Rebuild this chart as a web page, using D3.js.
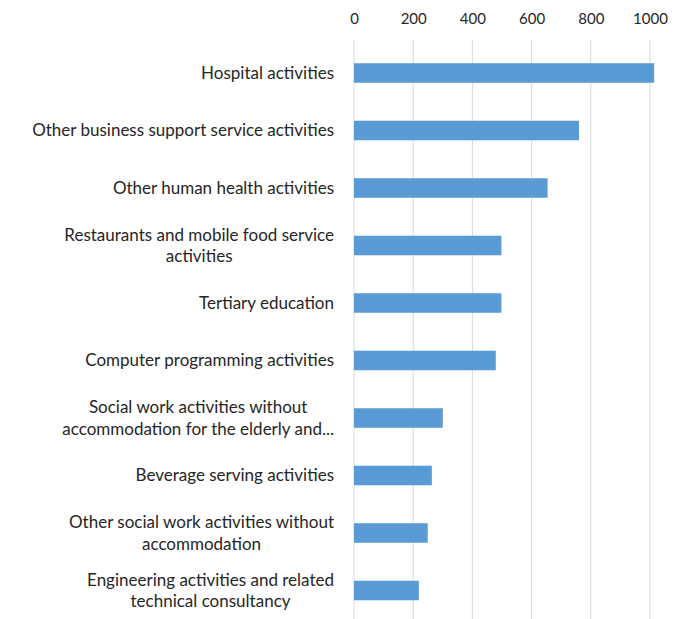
<!DOCTYPE html>
<html>
<head>
<meta charset="utf-8">
<script src="https://cdn.jsdelivr.net/npm/d3@7"></script>
<style>
  html, body { margin: 0; padding: 0; background: #fff; }
  svg { display: block; }
  text { font-family: Lato, "Open Sans", sans-serif; fill: #262626; }
</style>
</head>
<body>
<svg id="chart" width="674" height="619"></svg>
<script>
// ---- data ----
const categories = [
  "Hospital activities",
  "Other business support service activities",
  "Other human health activities",
  "Restaurants and mobile food service activities",
  "Tertiary education",
  "Computer programming activities",
  "Social work activities without accommodation for the elderly and...",
  "Beverage serving activities",
  "Other social work activities without accommodation",
  "Engineering activities and related technical consultancy"
];
const labelLines = [
  ["Hospital activities"],
  ["Other business support service activities"],
  ["Other human health activities"],
  ["Restaurants and mobile food service", "activities"],
  ["Tertiary education"],
  ["Computer programming activities"],
  ["Social work activities without", "accommodation for the elderly and..."],
  ["Beverage serving activities"],
  ["Other social work activities without", "accommodation"],
  ["Engineering activities and related", "technical consultancy"]
];
const values = [1014, 760, 654, 498, 498, 479, 300, 263, 249, 219];
const tickValues = [0, 200, 400, 600, 800, 1000];

// ---- layout ----
const svg = d3.select("#chart");
const x = d3.scaleLinear().domain([0, 1000]).range([354, 650]);
const y = d3.scaleBand().domain(categories).range([44.25, 619.25])
  .paddingInner(0.66).paddingOuter(0.33);

// gridlines
svg.append("g").selectAll("line").data(tickValues).join("line")
  .attr("x1", d => x(d)).attr("x2", d => x(d))
  .attr("y1", 40).attr("y2", 619)
  .attr("stroke", "#d9d9d9").attr("stroke-width", 1);

// top axis labels
const axis = svg.append("g").attr("transform", "translate(0,40)")
  .call(d3.axisTop(x).tickValues(tickValues).tickSize(0).tickPadding(16).tickFormat(d3.format("d")));
axis.select(".domain").remove();
axis.selectAll("text").style("font-family", "Lato, 'Open Sans', sans-serif")
  .style("font-size", "15px").attr("fill", "#262626");

// bars
svg.append("g").selectAll("rect").data(values).join("rect")
  .attr("x", x(0))
  .attr("y", (d, i) => y(categories[i]))
  .attr("width", d => x(d) - x(0))
  .attr("height", y.bandwidth())
  .attr("fill", "#5b9bd5");

// category labels
const fs = 17, lh = 21.5, rightEdge = x(0) - 20;
const lg = svg.append("g").style("font-size", fs + "px");
labelLines.forEach((lines, i) => {
  const cy = y(categories[i]) + y.bandwidth() / 2;
  const g = lg.append("g");
  const texts = lines.map((ln, j) => g.append("text")
    .attr("y", cy + (j - (lines.length - 1) / 2) * lh)
    .attr("dy", "0.35em")
    .text(ln));
  if (lines.length === 1) {
    texts[0].attr("x", rightEdge).attr("text-anchor", "end");
  } else {
    const maxW = d3.max(texts, t => t.node().getComputedTextLength());
    texts.forEach(t => t.attr("x", rightEdge - maxW / 2).attr("text-anchor", "middle"));
  }
});
</script>
</body>
</html>
